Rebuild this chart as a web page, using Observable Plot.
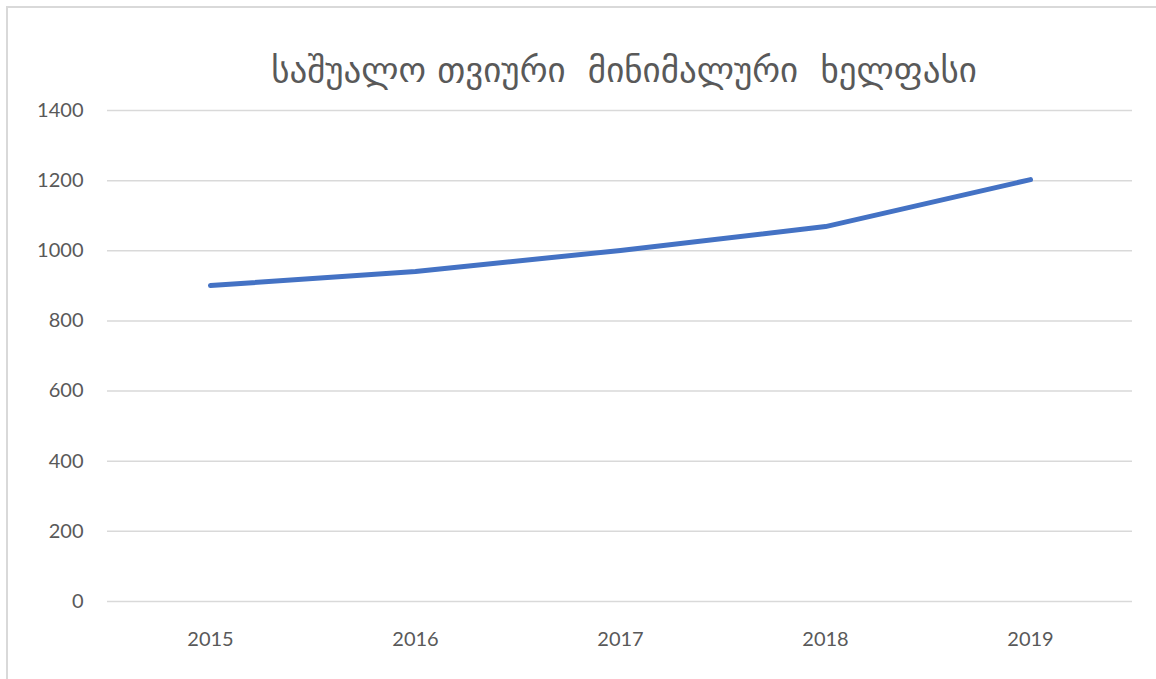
<!DOCTYPE html>
<html><head><meta charset="utf-8">
<script src="https://cdn.jsdelivr.net/npm/d3@7"></script>
<script src="https://cdn.jsdelivr.net/npm/@observablehq/plot@0.6"></script>
<style>
html,body{margin:0;padding:0;background:#fff;}
#wrap{position:relative;width:1156px;height:679px;overflow:hidden;}
#frame{position:absolute;left:6px;top:6px;width:1200px;height:800px;border:2px solid #d9d9d9;box-sizing:border-box;}
#title{position:absolute;left:0;top:48px;width:1248px;text-align:center;font-family:"DejaVu Sans",sans-serif;font-size:35px;line-height:44px;color:#595959;white-space:pre;}
#chart{position:absolute;left:0;top:0;}
</style></head>
<body>
<div id="wrap"><div id="frame"></div><div id="title"></div><div id="chart"></div></div>
<script>
const titleText = "საშუალო თვიური  მინიმალური  ხელფასი";
const years = ["2015","2016","2017","2018","2019"];
const wages = [901, 941, 1001, 1069, 1203];
const yTicks = [0,200,400,600,800,1000,1200,1400];

document.getElementById("title").textContent = titleText;
const data = years.map((y,i)=>({year:y, wage:wages[i]}));
const chart = Plot.plot({
  width:1156, height:679,
  marginLeft:107, marginRight:24, marginTop:110, marginBottom:78,
  style:{fontFamily:"Lato, sans-serif", fontSize:"20px", color:"#595959", background:"transparent"},
  x:{type:"point", domain:years, padding:0.5, label:null},
  y:{domain:[0,1400], label:null},
  marks:[
    Plot.ruleY(yTicks, {stroke:"#d9d9d9", strokeWidth:1.5}),
    Plot.axisY(yTicks, {tickSize:0, tickPadding:24, label:null, fill:"#595959", tickFormat:d=>String(d)}),
    Plot.axisX({tickSize:0, tickPadding:30, label:null, fill:"#595959"}),
    Plot.line(data, {x:"year", y:"wage", stroke:"#4472c4", strokeWidth:5, strokeLinecap:"round", strokeLinejoin:"round"})
  ]
});
document.getElementById("chart").appendChild(chart);
</script>
</body></html>
